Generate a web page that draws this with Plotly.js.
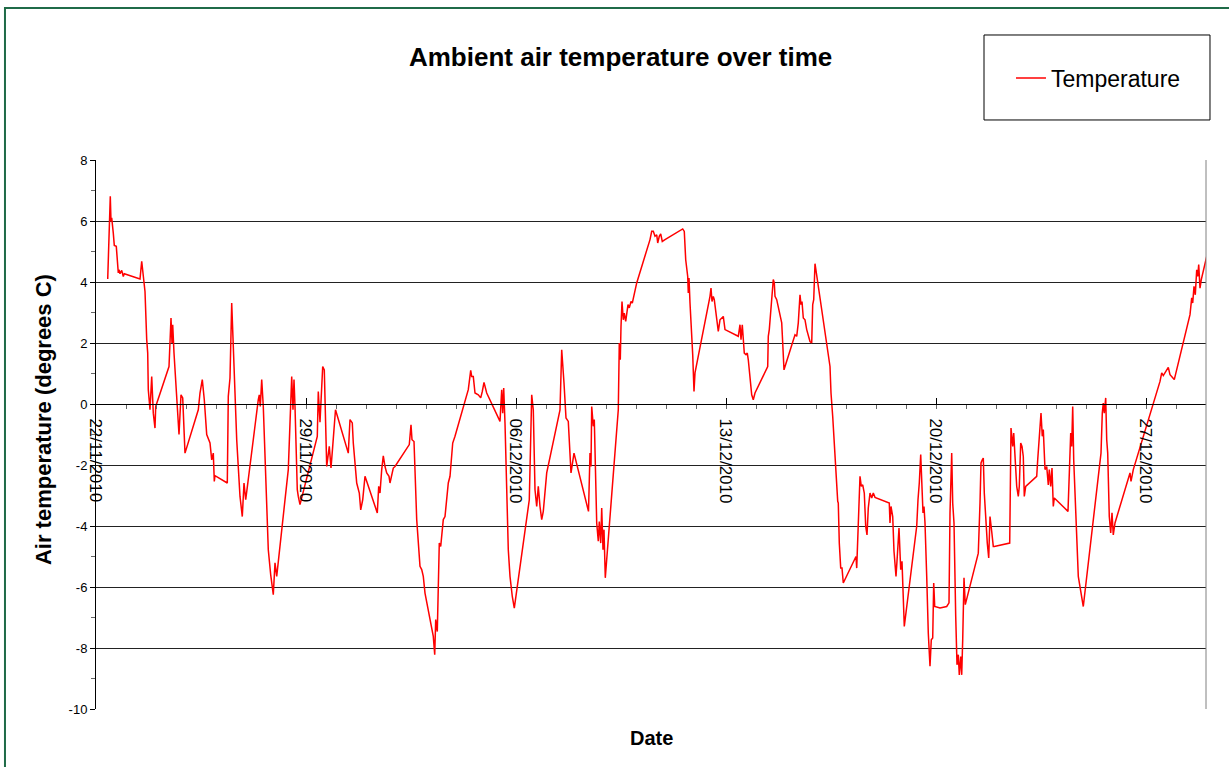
<!DOCTYPE html>
<html>
<head>
<meta charset="utf-8">
<script src="https://cdn.plot.ly/plotly-3.0.1.min.js"></script>
<style>html,body{margin:0;padding:0;background:#fff;}#chart{width:1229px;height:767px;}</style>
</head>
<body>
<div id="chart"></div>
<script>
// Reading times (2010, month-day hour:minute) and ambient air temperature (degrees C)
const times = [
'11-22 09:22','11-22 10:24','11-22 10:58','11-22 11:26','11-22 12:00','11-22 12:34','11-22 13:50','11-22 14:38','11-22 16:14','11-22 17:02','11-22 17:50','11-22 18:24','11-22 19:12','11-22 20:34','11-22 21:50','11-22 22:38',
'11-23 11:12','11-23 12:34','11-23 13:22','11-23 15:12','11-23 16:34','11-23 17:22','11-23 17:50','11-23 19:12','11-23 20:34','11-23 21:50','11-23 23:12','11-23 23:46',
'11-24 10:24','11-24 11:12','11-24 12:00','11-24 12:48','11-24 13:22','11-24 14:24','11-24 16:34','11-24 18:24','11-24 20:00','11-24 21:22','11-24 23:12',
'11-25 09:50','11-25 11:12','11-25 13:02','11-25 14:38','11-25 16:34','11-25 19:12','11-25 20:34','11-25 21:50','11-25 22:38','11-25 23:12',
'11-26 09:02','11-26 09:50','11-26 11:12','11-26 12:34','11-26 13:22','11-26 14:38','11-26 16:34','11-26 19:12','11-26 21:02','11-26 22:24','11-26 23:46',
'11-27 09:50','11-27 10:38','11-27 11:26','11-27 12:34','11-27 13:50','11-27 17:50','11-27 19:46','11-27 21:50','11-27 23:12',
'11-28 00:34','11-28 09:50','11-28 12:34','11-28 13:36','11-28 14:24','11-28 15:12','11-28 17:02','11-28 17:50','11-28 19:12',
'11-29 09:02','11-29 09:50','11-29 11:12','11-29 13:22','11-29 14:38','11-29 16:34','11-29 18:38','11-29 20:00','11-29 21:22','11-29 23:36',
'11-30 09:50','11-30 11:12','11-30 13:02','11-30 13:50','11-30 16:34','11-30 18:38','11-30 19:46','11-30 21:22','11-30 23:12',
'12-01 09:02','12-01 10:10','12-01 11:12','12-01 12:34','12-01 13:50','12-01 15:12','12-01 16:34','12-01 18:24','12-01 19:12','12-01 21:50','12-01 23:12',
'12-02 10:38','12-02 12:00','12-02 12:48','12-02 14:24','12-02 16:34','12-02 19:12','12-02 20:34','12-02 21:50','12-02 23:12',
'12-03 05:50','12-03 06:58','12-03 07:46','12-03 09:02','12-03 09:50','12-03 10:38','12-03 11:46','12-03 12:48','12-03 13:50','12-03 15:12','12-03 16:00','12-03 17:50','12-03 19:12','12-03 21:22','12-03 23:12',
'12-04 09:50','12-04 11:46','12-04 12:34','12-04 13:50','12-04 15:12','12-04 17:50','12-04 19:46','12-04 21:02','12-04 22:24',
'12-05 00:34','12-05 11:12','12-05 12:34','12-05 13:22','12-05 14:10','12-05 15:12','12-05 17:50','12-05 19:12','12-05 21:02','12-05 22:38',
'12-06 10:38','12-06 12:34','12-06 13:50','12-06 15:12','12-06 16:34','12-06 17:50','12-06 19:12','12-06 20:34','12-06 21:50',
'12-07 00:34','12-07 11:12','12-07 12:34','12-07 14:24','12-07 16:00','12-07 17:50','12-07 20:00','12-07 22:24',
'12-08 10:00','12-08 11:12','12-08 12:00','12-08 12:34','12-08 13:50','12-08 14:38','12-08 16:34','12-08 17:50','12-08 18:38','12-08 19:46','12-08 20:34','12-08 21:36','12-08 22:24','12-08 23:26',
'12-09 09:50','12-09 10:38','12-09 11:26','12-09 12:00','12-09 12:48','12-09 13:50','12-09 14:38','12-09 15:46','12-09 16:48','12-09 17:36','12-09 18:38','12-09 20:00','12-09 21:02','12-09 21:50',
'12-10 00:34','12-10 11:12','12-10 12:34','12-10 13:50','12-10 15:12','12-10 16:34','12-10 17:22','12-10 18:38','12-10 19:46','12-10 21:02','12-10 23:12',
'12-11 13:22','12-11 14:38','12-11 15:46','12-11 17:22','12-11 17:50','12-11 18:24','12-11 19:12','12-11 20:00','12-11 21:22','12-11 22:24','12-11 23:12',
'12-12 11:12','12-12 12:00','12-12 12:48','12-12 13:50','12-12 14:38','12-12 16:34','12-12 17:50','12-12 19:12','12-12 21:02','12-12 21:50','12-12 23:12',
'12-13 09:50','12-13 11:12','12-13 12:00','12-13 13:02','12-13 14:10','12-13 14:38','12-13 16:00','12-13 17:02','12-13 17:50','12-13 20:34','12-13 21:50','12-13 23:12',
'12-14 09:22','12-14 09:50','12-14 10:38','12-14 12:34','12-14 13:50','12-14 14:38','12-14 15:12','12-14 16:34','12-14 17:50','12-14 19:12','12-14 20:34','12-14 21:22','12-14 22:24',
'12-15 07:12','12-15 08:34','12-15 09:50','12-15 11:12','12-15 12:00','12-15 12:48','12-15 13:50','12-15 15:12','12-15 16:34','12-15 17:50','12-15 19:12','12-15 20:34','12-15 21:22','12-15 22:10','12-15 23:12',
'12-16 11:12','12-16 12:00','12-16 13:22','12-16 15:12','12-16 16:34','12-16 17:22','12-16 17:50','12-16 18:38','12-16 19:46','12-16 20:48','12-16 21:50',
'12-17 08:00','12-17 08:34','12-17 09:50','12-17 11:12','12-17 12:14','12-17 13:22','12-17 14:38','12-17 15:46','12-17 16:48','12-17 17:50','12-17 19:12','12-17 20:34','12-17 21:50','12-17 23:12',
'12-18 10:38','12-18 11:12','12-18 12:00','12-18 13:22','12-18 14:24','12-18 16:00','12-18 17:02','12-18 18:24','12-18 19:46','12-18 20:48','12-18 22:38',
'12-19 08:34','12-19 09:36','12-19 10:38','12-19 11:46','12-19 12:48','12-19 13:36','12-19 14:24','12-19 15:12','12-19 16:34','12-19 17:50','12-19 19:12','12-19 20:14','12-19 21:22','12-19 22:10','12-19 22:58',
'12-20 03:12','12-20 08:34','12-20 10:24','12-20 11:12','12-20 12:34','12-20 13:22','12-20 14:24','12-20 15:46','12-20 16:48','12-20 17:50','12-20 18:38','12-20 19:46','12-20 20:34','12-20 21:22','12-20 22:24','12-20 23:26',
'12-21 09:50','12-21 11:12','12-21 12:00','12-21 13:02','12-21 13:50','12-21 14:38','12-21 16:00','12-21 17:02','12-21 18:10','12-21 19:12','12-21 20:34','12-21 21:50','12-21 22:38',
'12-22 10:58','12-22 12:00','12-22 13:22','12-22 14:10','12-22 15:12','12-22 16:34','12-22 17:50','12-22 18:38','12-22 19:46','12-22 20:48','12-22 21:50','12-22 22:38','12-22 23:46',
'12-23 08:34','12-23 09:22','12-23 10:24','12-23 11:12','12-23 12:00','12-23 13:02','12-23 13:50','12-23 15:12','12-23 16:34','12-23 17:50','12-23 18:38','12-23 19:46','12-23 20:48','12-23 21:50','12-23 22:38',
'12-24 09:36','12-24 10:38','12-24 11:46','12-24 12:34','12-24 13:22','12-24 14:10','12-24 15:12','12-24 17:02','12-24 17:50','12-24 21:50',
'12-25 09:50','12-25 11:12','12-25 12:00','12-25 13:02','12-25 13:50','12-25 14:38','12-25 15:46','12-25 16:34','12-25 17:22','12-25 18:38','12-25 19:46','12-25 20:48','12-25 21:50','12-25 23:12',
'12-26 09:50','12-26 11:12','12-26 12:00','12-26 13:50',
'12-27 11:12','12-27 12:34','12-27 13:50','12-27 15:12','12-27 16:34','12-27 17:50','12-27 19:12','12-27 20:34','12-27 22:38',
'12-28 11:12','12-28 12:00','12-28 12:34','12-28 13:22','12-28 14:24','12-28 15:26','12-28 16:34','12-28 17:22','12-28 18:10','12-28 19:12','12-28 20:14','12-29 00:34'
];
const temperature = [
4.1,5.22,6.15,6.81,5.99,6.1,5.6,5.2,5.17,4.79,4.3,4.4,4.27,4.38,4.18,4.27,
4.1,4.68,4.4,3.69,2.11,1.67,0.47,-0.19,0.9,-0.3,-0.79,-0.08,
1.23,1.89,2.82,2.0,2.6,1.67,0.36,-1.0,0.3,0.2,-1.61,
-0.19,0.36,0.8,0.14,-1.0,-1.28,-1.83,-1.61,-2.54,-2.35,
-2.59,0.25,0.85,3.31,2.33,0.8,-1.17,-3.03,-3.69,-2.59,-3.14,
0.14,0.3,-0.08,0.8,-0.08,-4.78,-5.6,-6.25,-5.21,
-5.65,-2.15,0.9,-0.19,0.8,-0.08,-2.81,-3.03,-3.3,
-1.06,0.41,-0.6,1.23,1.12,-2.05,-1.39,-2.1,-1.39,-0.19,
-1.61,-0.51,-0.62,-1.28,-2.59,-2.92,-3.47,-3.14,-2.37,
-3.57,-2.7,-2.92,-2.15,-1.7,-2.05,-2.26,-2.37,-2.59,-2.1,-2.05,
-1.33,-0.68,-1.17,-1.23,-3.79,-5.32,-5.43,-5.65,-6.2,
-7.62,-8.22,-7.07,-7.46,-6.31,-4.56,-4.67,-4.12,-3.79,-3.69,-3.41,-2.59,-2.37,-1.28,-1.06,
0.47,1.1,0.9,0.9,0.36,0.3,0.2,0.41,0.71,
0.36,-0.57,0.47,-0.3,0.52,-0.62,-4.78,-5.65,-6.31,-6.69,
-3.14,0.3,-0.19,-2.81,-3.36,-2.7,-3.36,-3.79,-3.52,
-2.26,-0.19,1.78,0.69,-0.46,-0.57,-2.26,-1.61,
-3.52,-1.61,-2.05,-0.08,-0.73,-0.51,-3.9,-4.5,-3.85,-4.56,-3.41,-4.78,-4.12,-5.7,
-0.19,2.0,1.45,2.54,3.36,2.76,2.98,2.71,2.98,3.26,3.15,3.36,3.31,3.48,
3.97,5.39,5.66,5.66,5.5,5.55,5.28,5.5,5.58,5.33,5.39,
5.74,5.66,4.73,4.18,3.64,4.13,3.31,2.76,1.62,0.41,1.02,
3.53,3.8,3.36,3.53,3.42,2.76,2.38,2.76,2.82,2.87,2.44,
2.22,2.6,2.11,2.6,2.11,1.67,1.62,1.67,1.45,0.3,0.14,0.36,
1.23,2.22,2.44,3.53,4.08,3.97,3.53,3.42,3.2,2.98,2.66,2.0,1.12,
2.27,2.22,2.66,3.58,3.26,3.36,2.82,2.76,2.44,2.22,2.05,2.0,3.26,3.42,4.6,
1.23,0.36,-0.41,-1.83,-2.92,-3.19,-3.25,-4.56,-5.38,-5.38,-5.87,
-5.0,-5.38,-3.69,-2.37,-2.7,-2.65,-2.92,-4.01,-4.29,-3.41,-2.92,-3.08,-2.92,-3.06,
-3.25,-3.9,-3.36,-3.69,-4.83,-5.65,-5.0,-4.07,-5.43,-5.16,-7.29,
-4.01,-3.14,-2.59,-1.66,-2.59,-3.57,-3.36,-3.9,-5.65,-7.51,-8.6,-7.73,-7.67,-5.87,-6.64,
-6.69,-6.64,-6.52,-3.57,-1.61,-3.25,-3.9,-6.96,-8.55,-8.22,-8.88,-8.28,-8.88,-7.73,-5.7,-6.58,
-4.89,-3.25,-1.93,-1.83,-1.77,-2.92,-4.12,-4.56,-5.05,-3.69,-4.18,-4.67,-4.67,
-4.56,-0.79,-1.39,-0.95,-1.61,-2.7,-3.03,-2.7,-1.28,-1.39,-1.72,-3.03,-2.7,
-2.37,-1.83,-1.23,-1.06,-0.3,-1.06,-0.84,-2.15,-2.05,-2.65,-2.15,-2.7,-2.1,-3.36,-3.08,
-3.52,-1.83,-0.95,-1.39,-0.08,-1.83,-2.92,-4.45,-5.65,-6.64,
-2.26,-1.72,-1.61,-0.3,0.03,-0.3,0.2,-1.17,-1.61,-3.69,-4.23,-3.57,-4.29,-3.9,
-2.37,-2.26,-2.54,-2.15,
0.74,1.02,0.93,1.04,1.12,1.2,0.96,0.9,0.8,
2.93,3.2,3.48,3.31,3.86,3.58,4.4,4.18,4.57,3.8,4.08,4.84
];
const yTickVals = [-10,-8,-6,-4,-2,0,2,4,6,8];
const yTickText = ['-10','-8','-6','-4','-2','0','2','4','6','8'];
const xRange = ['2010-11-22 00:00','2010-12-29 00:00'];
const yRange = [-10, 8];

const FONT = 'Arial, "Liberation Sans", Helvetica, sans-serif';
const trace = {
  x: times.map(t => '2010-' + t),
  y: temperature,
  type: 'scatter',
  mode: 'lines',
  name: 'Temperature',
  line: {color: '#ff0000', width: 1.5},
  hoverinfo: 'x+y'
};

const layout = {
  width: 1229, height: 767,
  margin: {l: 96, r: 23, t: 160, b: 58, pad: 0},
  paper_bgcolor: '#ffffff',
  plot_bgcolor: '#ffffff',
  font: {family: FONT, color: '#000'},
  title: {
    text: 'Ambient air temperature over time',
    font: {family: FONT, size: 26, weight: 'bold', color: '#000'},
    x: 0.505, xref: 'container', xanchor: 'center',
    y: 0.9257, yref: 'container', yanchor: 'middle'
  },
  showlegend: true,
  legend: {
    x: 0.8243, xanchor: 'left', y: 1.1494, yanchor: 'middle',
    bgcolor: 'rgba(0,0,0,0)', borderwidth: 0,
    font: {family: FONT, size: 23, color: '#000'}
  },
  xaxis: {
    type: 'date',
    range: xRange,
    anchor: 'free',
    position: (0 - yRange[0]) / (yRange[1] - yRange[0]),
    showline: true, linecolor: '#000', linewidth: 1,
    showgrid: false, zeroline: false,
    tick0: '2010-11-22', dtick: 7 * 86400000,
    tickformat: '%d/%m/%Y',
    tickangle: 90,
    ticks: 'inside', ticklen: 6, tickcolor: '#000', tickwidth: 1,
    ticklabelstandoff: 10,
    tickfont: {family: FONT, size: 17, color: '#000'},
    minor: {tick0: '2010-11-22', dtick: 86400000, ticks: 'outside', ticklen: 4, tickcolor: '#666', showgrid: false},
    automargin: false,
    fixedrange: true
  },
  yaxis: {
    range: yRange,
    tickvals: yTickVals, ticktext: yTickText,
    showline: true, linecolor: '#000', linewidth: 1,
    showgrid: true, gridcolor: '#222', gridwidth: 1,
    zeroline: false,
    ticks: 'outside', ticklen: 5, tickcolor: '#000',
    tickfont: {family: FONT, size: 13, color: '#000'},
    minor: {dtick: 1, ticks: 'outside', ticklen: 4, tickcolor: '#666', showgrid: false},
    automargin: false,
    fixedrange: true
  },
  annotations: [
    {text: 'Date', xref: 'paper', yref: 'paper', x: 0.5, y: -0.0528, xanchor: 'center', yanchor: 'middle',
     showarrow: false, font: {family: FONT, size: 20, weight: 'bold', color: '#000'}},
    {text: 'Air temperature (degrees C)', xref: 'paper', yref: 'paper', x: -0.0477, y: 0.5264,
     xanchor: 'center', yanchor: 'middle', textangle: -90,
     showarrow: false, font: {family: FONT, size: 22, weight: 'bold', color: '#000'}}
  ],
  shapes: [
    {type: 'line', xref: 'paper', yref: 'paper', x0: 1, x1: 1, y0: 0, y1: 1, line: {color: '#808080', width: 1}},
    {type: 'rect', xref: 'paper', yref: 'paper', x0: 0.8, x1: 1.0036, y0: 1.0729, y1: 1.2277,
     line: {color: '#000', width: 1}, fillcolor: '#ffffff', layer: 'below'},
    {type: 'rect', xref: 'paper', yref: 'paper', x0: -0.082, x1: 1.03, y0: -0.15, y1: 1.2769,
     line: {color: '#1f6b48', width: 2}, fillcolor: 'rgba(0,0,0,0)', layer: 'below'}
  ]
};

Plotly.newPlot('chart', [trace], layout, {displayModeBar: false, staticPlot: true});
</script>
</body>
</html>
